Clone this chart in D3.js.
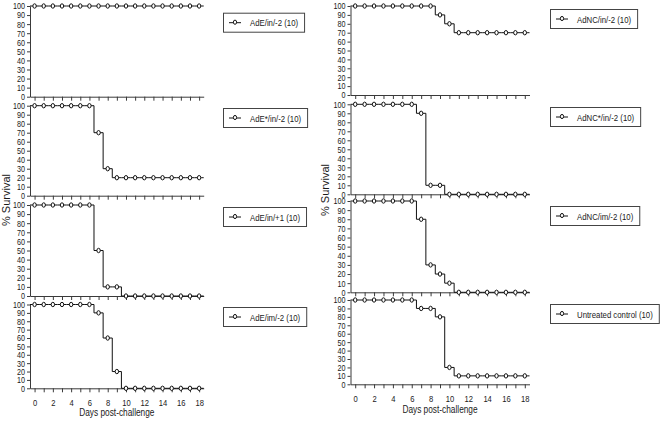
<!DOCTYPE html>
<html>
<head>
<meta charset="utf-8">
<script src="https://cdn.jsdelivr.net/npm/d3@7"></script>
<style>
  body { margin: 0; background: #fff; }
  svg text { font-family: 'Liberation Sans', Arial, sans-serif; fill: #1a1a1a; }
</style>
</head>
<body>
<div id="chart"></div>
<script>
// days post-challenge and tick values
const days = [0, 1, 2, 3, 4, 5, 6, 7, 8, 9, 10, 11, 12, 13, 14, 15, 16, 17, 18];
const yTicks = [0, 10, 20, 30, 40, 50, 60, 70, 80, 90, 100];
const xTickLabels = [0, 2, 4, 6, 8, 10, 12, 14, 16, 18];

// left column groups
const leftNames = ['AdE/in/-2 (10)', 'AdE*/in/-2 (10)', 'AdE/in/+1 (10)', 'AdE/im/-2 (10)'];
const adEin = [100, 100, 100, 100, 100, 100, 100, 100, 100, 100, 100, 100, 100, 100, 100, 100, 100, 100, 100];
const adEstarIn = [100, 100, 100, 100, 100, 100, 100, 70, 30, 20, 20, 20, 20, 20, 20, 20, 20, 20, 20];
const adEinPlus1 = [100, 100, 100, 100, 100, 100, 100, 50, 10, 10, 0, 0, 0, 0, 0, 0, 0, 0, 0];
const adEim = [100, 100, 100, 100, 100, 100, 100, 90, 60, 20, 0, 0, 0, 0, 0, 0, 0, 0, 0];

// right column groups
const rightNames = ['AdNC/in/-2 (10)', 'AdNC*/in/-2 (10)', 'AdNC/im/-2 (10)', 'Untreated control (10)'];
const adNCin = [100, 100, 100, 100, 100, 100, 100, 100, 100, 90, 80, 70, 70, 70, 70, 70, 70, 70, 70];
const adNCstarIn = [100, 100, 100, 100, 100, 100, 100, 90, 10, 10, 0, 0, 0, 0, 0, 0, 0, 0, 0];
const adNCim = [100, 100, 100, 100, 100, 100, 100, 80, 30, 20, 10, 0, 0, 0, 0, 0, 0, 0, 0];
const untreated = [100, 100, 100, 100, 100, 100, 100, 90, 90, 80, 20, 10, 10, 10, 10, 10, 10, 10, 10];

const width = 661;
const height = 423;

const svg = d3.select('#chart')
  .append('svg')
    .attr('width', width)
    .attr('height', height);

// the original uses a narrow face; squeeze Liberation Sans to match
function condense(sel, k) {
  sel.each(function () {
    const len = this.getComputedTextLength();
    if (len > 0) {
      d3.select(this)
        .attr('textLength', len * k)
        .attr('lengthAdjust', 'spacingAndGlyphs');
    }
  });
}

// layout of the two columns (pixel positions)
const columns = [
  {
    x0: 30, x1: 203.7,
    panels: [[6, 96.7], [105.7, 195.7], [205, 296], [304.5, 388.3]],
    series: [adEin, adEstarIn, adEinPlus1, adEim],
    names: leftNames,
    legendX: 223,
    legendY: [12.7, 108, 207, 307],
    yTitle: {x: 10, y: 200},
    xTitleY: 415.5
  },
  {
    x0: 350.5, x1: 529.5,
    panels: [[6, 95], [104.3, 194.3], [201, 292.3], [300, 384.3]],
    series: [adNCin, adNCstarIn, adNCim, untreated],
    names: rightNames,
    legendX: 550,
    legendY: [9, 107, 206, 304],
    yTitle: {x: 329, y: 190},
    xTitleY: 413
  }
];

const axisColor = '#3a3a3a';

columns.forEach(col => {
  const x = d3.scaleLinear()
    .domain([-0.5, 18.5])
    .range([col.x0, col.x1]);

  col.panels.forEach((p, i) => {
    const y = d3.scaleLinear()
      .domain([0, 100])
      .range([p[1], p[0]]);

    const g = svg.append('g');
    const isBottom = i === col.panels.length - 1;

    // y axis
    const yAxis = g.append('g')
      .attr('transform', `translate(${col.x0},0)`)
      .call(d3.axisLeft(y).tickValues(yTicks).tickSize(3).tickPadding(2).tickSizeOuter(0));
    yAxis.select('.domain').attr('stroke', axisColor);
    yAxis.selectAll('line').attr('stroke', axisColor);
    yAxis.selectAll('text')
      .attr('font-size', '9px')
      .attr('fill', '#1a1a1a')
      .attr('font-family', "'Liberation Sans', Arial, sans-serif")
      .call(condense, 0.8);

    // x axis
    const xAxis = g.append('g')
      .attr('transform', `translate(0,${p[1]})`)
      .call(d3.axisBottom(x).tickValues(days).tickSize(4).tickSizeOuter(0)
        .tickFormat(d => (isBottom && xTickLabels.includes(d)) ? d : ''));
    xAxis.select('.domain').attr('stroke', axisColor);
    xAxis.selectAll('line').attr('stroke', axisColor);
    xAxis.selectAll('text')
      .attr('font-size', '9.5px')
      .attr('fill', '#1a1a1a')
      .attr('font-family', "'Liberation Sans', Arial, sans-serif")
      .attr('dy', '1.1em')
      .call(condense, 0.8);

    // survival step line
    const vals = col.series[i];
    const pts = days.map((d, k) => [d, vals[k]]);
    pts.unshift([x.domain()[0], vals[0]]);
    pts.push([x.domain()[1], vals[vals.length - 1]]);

    const line = d3.line()
      .x(d => x(d[0]))
      .y(d => y(d[1]))
      .curve(d3.curveStep);

    g.append('path')
      .attr('d', line(pts))
      .attr('fill', 'none')
      .attr('stroke', '#111')
      .attr('stroke-width', 1);

    g.selectAll('ellipse')
      .data(days)
      .join('ellipse')
        .attr('cx', d => x(d))
        .attr('cy', (d, k) => y(vals[k]))
        .attr('rx', 1.7)
        .attr('ry', 2.2)
        .attr('fill', '#fff')
        .attr('stroke', '#111')
        .attr('stroke-width', 1);

    // legend box
    const lg = svg.append('g')
      .attr('transform', `translate(${col.legendX},${col.legendY[i]})`);
    const rect = lg.append('rect')
      .attr('x', 0.5)
      .attr('y', 0.5)
      .attr('height', 19)
      .attr('fill', '#fff')
      .attr('stroke', '#444')
      .attr('stroke-width', 1);
    lg.append('line')
      .attr('x1', 6).attr('x2', 18)
      .attr('y1', 10).attr('y2', 10)
      .attr('stroke', '#111');
    lg.append('ellipse')
      .attr('cx', 12).attr('cy', 9.5)
      .attr('rx', 1.6).attr('ry', 2.1)
      .attr('fill', '#fff')
      .attr('stroke', '#111');
    const txt = lg.append('text')
      .attr('x', 27)
      .attr('y', 13.5)
      .attr('font-size', '9.5px')
      .text(col.names[i]);
    const rawLen = txt.node().getComputedTextLength();
    txt.call(condense, 0.82);
    rect.attr('width', 27 + rawLen * 0.82 + 6);
  });

  // axis titles
  svg.append('text')
    .attr('transform', `translate(${col.yTitle.x},${col.yTitle.y}) rotate(-90)`)
    .attr('text-anchor', 'middle')
    .attr('font-size', '11px')
    .text('% Survival');

  svg.append('text')
    .attr('x', (col.x0 + col.x1) / 2)
    .attr('y', col.xTitleY)
    .attr('text-anchor', 'middle')
    .attr('font-size', '10px')
    .text('Days post-challenge')
    .call(condense, 0.83);
});
</script>
</body>
</html>
